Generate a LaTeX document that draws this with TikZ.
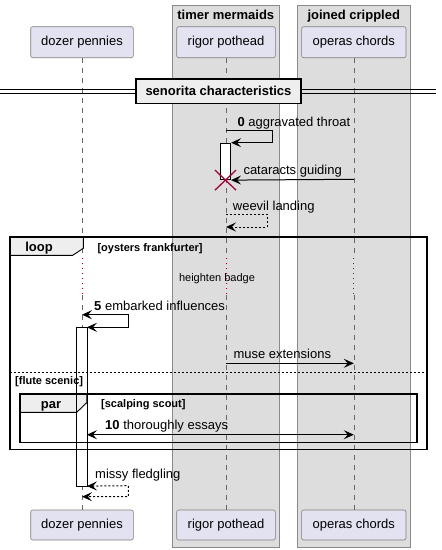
\documentclass[tikz,border=0pt]{standalone}
\usepackage{fontspec}
\setmainfont{Liberation Sans}
\usetikzlibrary{arrows.meta,calc}
\definecolor{partfill}{HTML}{E2E2F0}
\definecolor{partedge}{HTML}{7F7F7F}
\definecolor{boxfill}{HTML}{DDDDDD}
\definecolor{boxedge}{HTML}{8A8A8A}
\definecolor{tabfill}{HTML}{EEEEEE}
\definecolor{xred}{HTML}{A80036}
\tikzset{
  part/.style={draw=partedge, fill=partfill, rounded corners=2pt, line width=0.6pt,
    minimum height=31pt, inner sep=0pt, font=\fontsize{13}{15}\selectfont},
  grpbox/.style={fill=boxfill, draw=boxedge, line width=0.7pt},
  grptitle/.style={font=\fontsize{13}{15}\selectfont\bfseries, anchor=base},
  life/.style={draw=gray!80!black, line width=0.6pt, dash pattern=on 5pt off 5pt},
  delayline/.style={draw=xred, line width=0.8pt, dash pattern=on 1pt off 4pt},
  actbar/.style={draw=black, line width=0.8pt},
  msg/.style={draw=black, line width=1pt, -{Stealth[length=10pt,width=9pt,inset=4pt]}},
  bimsg/.style={draw=black, line width=1pt, {Stealth[length=10pt,width=9pt,inset=4pt]}-{Stealth[length=10pt,width=9pt,inset=4pt]}},
  dmsg/.style={msg, dash pattern=on 2pt off 2pt},
  dbimsg/.style={bimsg, dash pattern=on 2pt off 2pt},
  lbl/.style={font=\fontsize{13}{15}\selectfont, anchor=base west, inner sep=0pt},
  smalllbl/.style={font=\fontsize{11}{13}\selectfont\bfseries, anchor=base west, inner sep=0pt},
  framebox/.style={draw=black, line width=1.6pt},
  tabshape/.style={fill=tabfill, draw=black, line width=0.9pt},
  tablbl/.style={font=\fontsize{13}{15}\selectfont\bfseries, anchor=base, inner sep=0pt},
}
\begin{document}
\begin{tikzpicture}[x=1pt,y=-1pt]
\useasboundingbox (0,0) rectangle (442,550);
% group boxes
\draw[grpbox] (172.3,5) rectangle (279.3,547);
\draw[grpbox] (297.3,5) rectangle (410.3,547);
\node[grptitle] (t1) at (225.8,19) {timer mermaids};
\node[grptitle] (t2) at (353.8,19) {joined crippled};
% participants
\node[part, minimum width=102.6pt] (pA) at (82,42.2) {dozer pennies};
\node[part, minimum width=98.6pt] (pB) at (226,42.2) {rigor pothead};
\node[part, minimum width=104.3pt] (pC) at (353.8,42.2) {operas chords};
\node[part, minimum width=102.6pt, minimum height=30pt] (qA) at (82,525) {dozer pennies};
\node[part, minimum width=98.6pt, minimum height=30pt] (qB) at (226,525) {rigor pothead};
\node[part, minimum width=104.3pt, minimum height=30pt] (qC) at (353.8,525) {operas chords};
% lifeline break points
\foreach \n/\x in {A/82,B/226,C/353.8}{
  \coordinate (d1\n) at (\x,258);
  \coordinate (d2\n) at (\x,295);
  \draw[life] (p\n.south) -- (d1\n);
  \draw[delayline] (d1\n) -- (d2\n);
  \draw[life] (d2\n) -- (q\n.north);
}
% divider
\draw[line width=1pt] (0,89.3) -- (436,89.3);
\draw[line width=1pt] (0,93) -- (436,93);
\node[draw=black, line width=1.6pt, fill=tabfill, minimum width=165pt, minimum height=24.6pt,
  inner sep=0pt, font=\fontsize{13}{15}\selectfont\bfseries] (div) at (218.5,91) {senorita characteristics};
% activation on rigor
\node[actbar, fill=white, minimum width=10.4pt, minimum height=36pt, inner sep=0pt, anchor=north] (actB) at (225.5,143.3) {};
% message 0
\coordinate (m0s) at (226,130.7);
\draw[msg] (m0s) -- (272.7,130.7) -- (272.7,142.7) -- (actB.north east |- 0,142.7);
\node[lbl] (l0) at (237.3,126) {\textbf{0} aggravated throat};
% cataracts guiding
\coordinate (m1s) at (353.8,179.3);
\draw[msg] (m1s) -- (actB.south east);
\node[lbl] (l1) at (243.3,174) {cataracts guiding};
% destroy
\draw[draw=xred, line width=1.3pt] ($(actB.south)+(-10.5,-10)$) -- ($(actB.south)+(10.5,10)$);
\draw[draw=xred, line width=1.3pt] ($(actB.south)+(-10.5,10)$) -- ($(actB.south)+(10.5,-10)$);
% weevil landing
\coordinate (m2s) at (226,214.3);
\coordinate (m2e) at (226,227);
\draw[dmsg] (m2s) -- (267.3,214.3) -- (267.3,227) -- (m2e);
\node[lbl] (l2) at (232.7,210) {weevil landing};
% activation on dozer (fill)
\node[fill=white, minimum width=10pt, minimum height=158.4pt, inner sep=0pt, anchor=north] (actA) at (81.7,327.3) {};
% loop frame
\draw[tabshape] (10,236.7) -- (83.3,236.7) -- (83.3,248.3) -- (72.7,255.3) -- (10,255.3) -- cycle;
\draw[framebox] (10,236.7) rectangle (427,449.3);
\node[tablbl] (loopl) at (39,251.7) {loop};
\node[smalllbl] (loopc) at (97.3,251) {[oysters frankfurter]};
% delay text
\node[font=\fontsize{11}{13}\selectfont, anchor=base, inner sep=0pt] (delay) at (217,281) {heighten badge};
% message 5
\coordinate (m5s) at (82,314.7);
\draw[bimsg] (m5s) -- (128.3,314.7) -- (128.3,327.3) -- (actA.north east);
\node[lbl] (l5) at (94,310) {\textbf{5} embarked influences};
% muse extensions
\coordinate (m6s) at (226,363.3);
\coordinate (m6e) at (353.8,363.3);
\draw[msg] (m6s) -- (m6e);
\node[lbl] (l6) at (233.3,358) {muse extensions};
% else separator
\draw[line width=0.8pt, dash pattern=on 2pt off 2pt] (10,372.3) -- (427,372.3);
\node[smalllbl] (elsel) at (15,384.3) {[flute scenic]};
% par frame
\draw[tabshape] (20,393.7) -- (86.7,393.7) -- (86.7,402.7) -- (76.7,412.3) -- (20,412.3) -- cycle;
\draw[framebox] (20,393.7) rectangle (417,442.3);
\node[tablbl] (parl) at (51,408.3) {par};
\node[smalllbl] (parc) at (101,407.7) {[scalping scout]};
% activation border on top
\draw[actbar] (actA.north west) rectangle (actA.south east);
% message 10
\coordinate (m10e) at (353.8,434.7);
\draw[bimsg] (actA.east |- 0,434.7) -- (m10e);
\node[lbl] (l10) at (105,429.3) {\textbf{10} thoroughly essays};
% missy fledgling
\coordinate (m11e) at (82,496.7);
\draw[dbimsg] (actA.south east) -- (128.3,485.7) -- (128.3,496.7) -- (m11e);
\node[lbl] (l11) at (95,478.7) {missy fledgling};
\end{tikzpicture}
\end{document}
